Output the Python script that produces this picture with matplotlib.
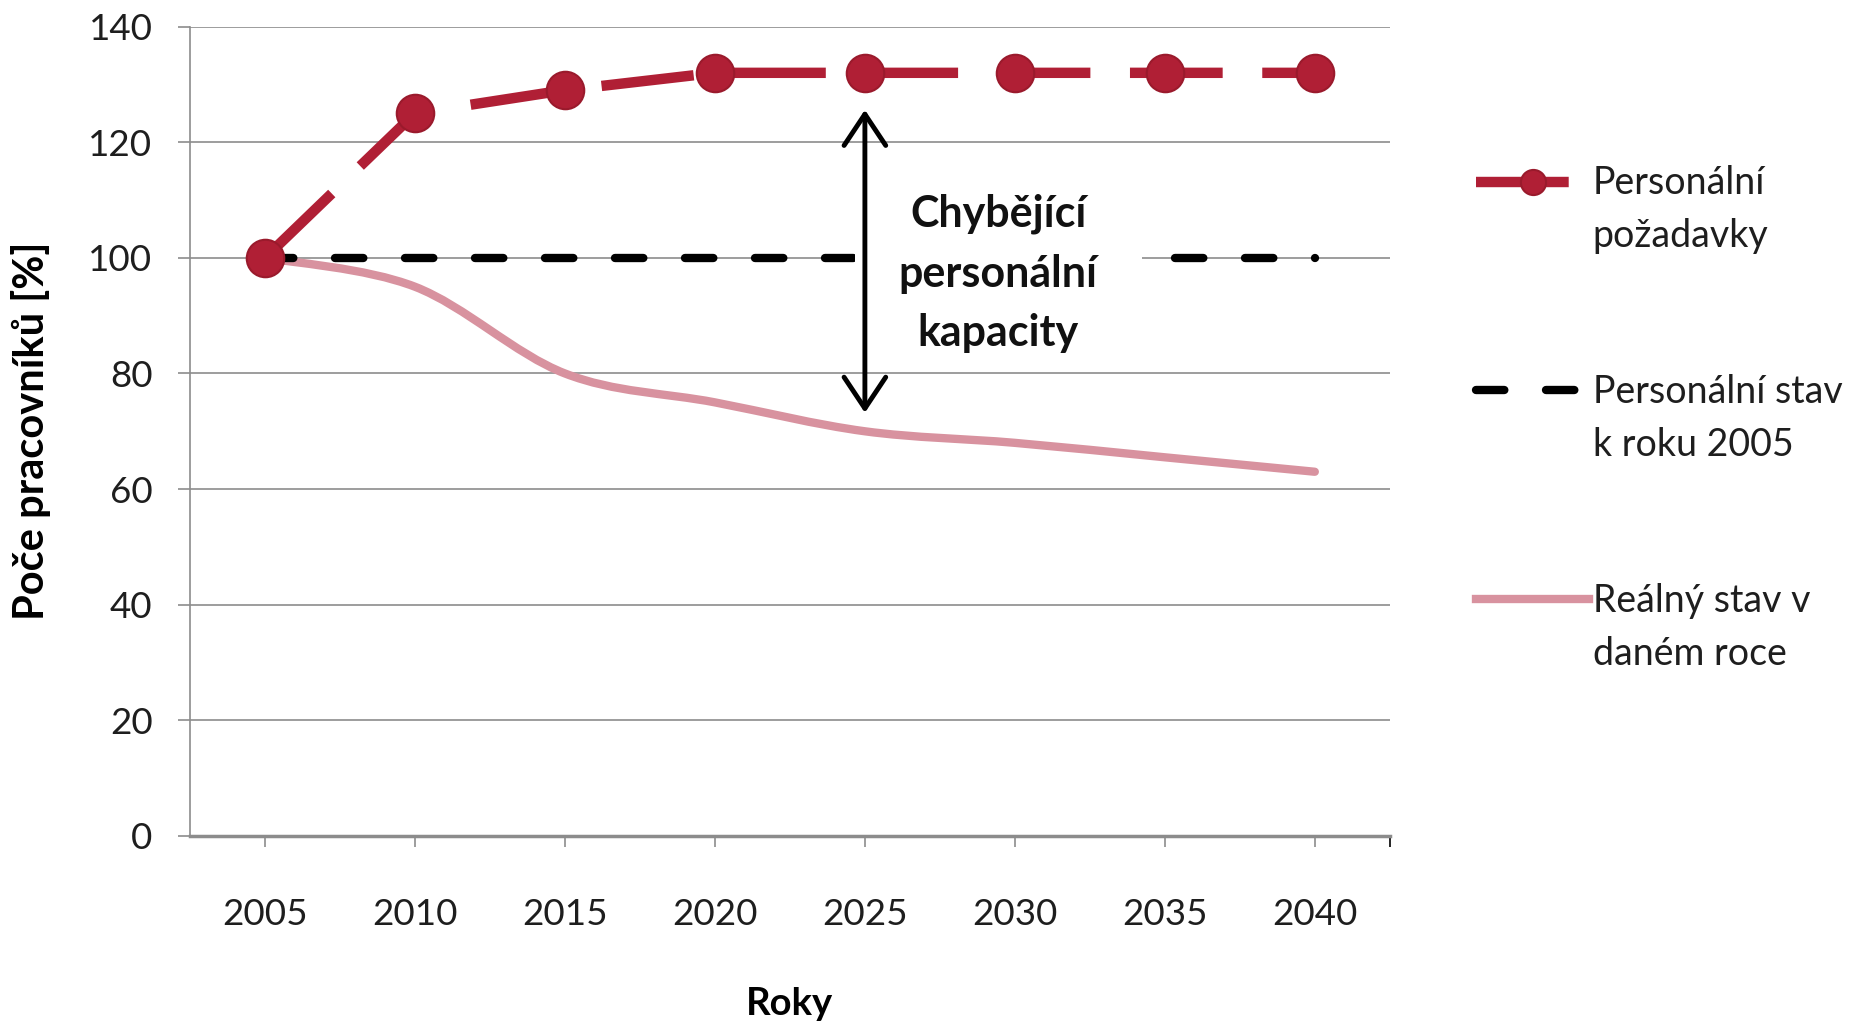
import numpy as np
import matplotlib
matplotlib.use("Agg")
import matplotlib.pyplot as plt
from matplotlib.path import Path
from matplotlib.patches import PathPatch
from matplotlib.lines import Line2D
from matplotlib.legend_handler import HandlerLine2D

years = ["2005", "2010", "2015", "2020", "2025", "2030", "2035", "2040"]
pozadavky = [100, 125, 129, 132, 132, 132, 132, 132]
stav_2005 = [100, 100, 100, 100, 100, 100, 100, 100]
realny = [100, 95, 80, 75, 70, 68, 65.5, 63]
yticks = [0, 20, 40, 60, 80, 100, 120, 140]

labels = ["Personální\npožadavky", "Personální stav\nk roku 2005", "Reálný stav v\ndaném roce"]

red = "#B01F35"
pink = "#D8929F"
grid_c = "#8c8c8c"

plt.rcParams['font.family'] = ['Lato', 'DejaVu Sans']


class FirstLineHandler(HandlerLine2D):
    # put the legend symbol next to the first line of a two-line label
    def create_artists(self, legend, orig_handle, xdescent, ydescent,
                       width, height, fontsize, trans):
        arts = super().create_artists(legend, orig_handle, xdescent, ydescent,
                                      width, height, fontsize, trans)
        for a in arts:
            a.set_ydata(np.asarray(a.get_ydata()) + 0.78 * fontsize)
        return arts


fig = plt.figure(figsize=(18.63, 10.22), dpi=100)
ax = fig.add_axes([0.102, 0.182, 0.644, 0.792])
x = list(range(len(years)))

# smoothed line (catmull-rom style bezier through the data points)
n = len(x)
verts = [(x[0], realny[0])]
codes = [Path.MOVETO]
for i in range(n - 1):
    a = max(i - 1, 0)
    d = min(i + 2, n - 1)
    c1 = (x[i] + (x[i + 1] - x[a]) / 6, realny[i] + (realny[i + 1] - realny[a]) / 6)
    c2 = (x[i + 1] - (x[d] - x[i]) / 6, realny[i + 1] - (realny[d] - realny[i]) / 6)
    verts += [c1, c2, (x[i + 1], realny[i + 1])]
    codes += [Path.CURVE4] * 3
ax.add_patch(PathPatch(Path(verts, codes), facecolor='none', edgecolor=pink,
                       lw=6, capstyle='round', zorder=2))
pink_proxy = Line2D([], [], color=pink, lw=6)

black_line, = ax.plot(x, stav_2005, color='black', lw=6, dashes=(3.4, 5.0),
                      dash_capstyle='round', zorder=3)
red_line, = ax.plot(x, pozadavky, color=red, lw=7.5, dashes=(8.9, 3.8),
                    marker='o', ms=27, mfc=red, mec='#9a1a2c', mew=1.5, zorder=4)

ax.text(4.89, 97.3, "Chybějící\npersonální\nkapacity", ha='center', va='center',
        fontsize=31, fontweight='bold', color='#111111', linespacing=1.6,
        bbox=dict(facecolor='white', edgecolor='none', pad=32, mutation_aspect=0.2),
        zorder=5)
ax.annotate('', xy=(4, 125.6), xytext=(4, 73.2),
            arrowprops=dict(arrowstyle='<->,head_length=0.75,head_width=0.5',
                            lw=3.5, color='black', mutation_scale=30,
                            shrinkA=0, shrinkB=0), zorder=6)

ax.set_xlim(-0.5, 7.5)
ax.set_ylim(0, 140)
ax.set_xticks(x)
ax.set_xticklabels(years)
ax.set_xticks([7.5], minor=True)
ax.set_yticks(yticks)
ax.tick_params(axis='both', labelsize=26.5, labelcolor='#1e1e1e', color=grid_c)
ax.tick_params(axis='y', length=9, width=1.2, pad=18)
ax.tick_params(axis='x', which='both', length=8, width=1.2, pad=37)

ax.yaxis.grid(True, color=grid_c, lw=1.2)
ax.set_axisbelow(True)
for s in ['top', 'right']:
    ax.spines[s].set_visible(False)
ax.spines['left'].set_color(grid_c)
ax.spines['left'].set_linewidth(1.2)
ax.spines['bottom'].set_color(grid_c)
ax.spines['bottom'].set_linewidth(2.5)

ax.set_ylabel("Poče pracovníků [%]", fontsize=30, fontweight='bold')
ax.yaxis.set_label_coords(-0.116, 0.5)
ax.set_xlabel("Roky", fontsize=27.5, fontweight='bold')
ax.xaxis.set_label_coords(0.5, -0.186)

leg = ax.legend([red_line, black_line, pink_proxy], labels, loc='upper left',
                bbox_to_anchor=(1.0565, 0.852), frameon=False, fontsize=27,
                handlelength=3.0, handletextpad=0.1, labelspacing=3.2,
                borderpad=0, markerscale=0.67,
                handler_map={Line2D: FirstLineHandler()})
for t in leg.get_texts():
    t.set_color('#1e1e1e')
    t.set_linespacing(1.58)

fig.savefig("out.png", dpi=100)
